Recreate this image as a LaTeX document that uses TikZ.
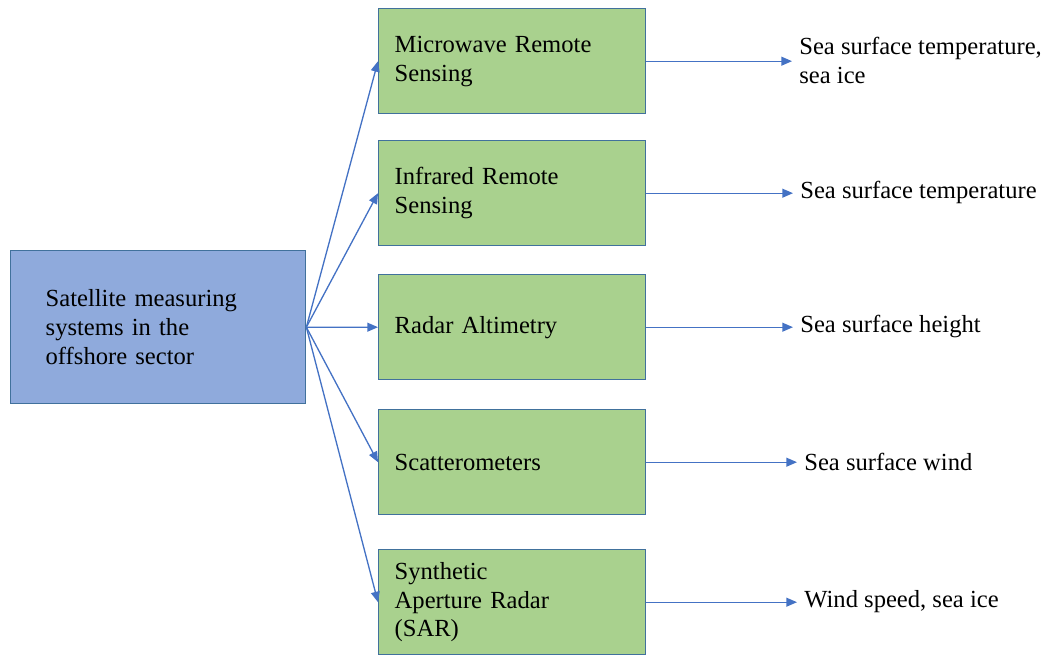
\documentclass[tikz,border=0pt]{standalone}
\usepackage{fontspec}
\setmainfont{Liberation Serif}
\usetikzlibrary{arrows.meta}

\definecolor{boxblue}{HTML}{8FAADC}
\definecolor{boxgreen}{HTML}{A9D18E}
\definecolor{edgeblue}{HTML}{41719C}
\definecolor{arrowblue}{HTML}{4472C4}

\tikzset{
    sysbox/.style={draw=edgeblue,fill=boxblue,line width=0.8pt,minimum width=5.88cm,minimum height=3.06cm,
        text width=4.5cm,inner xsep=0.7cm,align=left,anchor=north west,font=\fontsize{14}{16.4}\selectfont},
    methodbox/.style={draw=edgeblue,fill=boxgreen,line width=0.8pt,minimum width=5.34cm,minimum height=2.1cm,
        text width=4.7cm,inner xsep=0.32cm,align=left,anchor=north west,font=\fontsize{14}{16.4}\selectfont},
    result/.style={anchor=west,inner xsep=4pt,inner ysep=0pt,align=left,font=\fontsize{14}{16.4}\selectfont},
    link/.style={draw=arrowblue,line width=0.75pt,-{Triangle[length=6pt,width=5pt]}}
}

\begin{document}
\begin{tikzpicture}[x=0.02cm,y=-0.02cm]
    \useasboundingbox (0,0) rectangle (1044,655);

    % source
    \node[sysbox] (sat) at (10,250) {Satellite measuring\\systems in the\\offshore sector};

    % measuring methods
    \node[methodbox] (mw) at (378,8) {Microwave Remote\\Sensing};
    \node[methodbox] (ir) at (378,140) {Infrared Remote\\Sensing};
    \node[methodbox] (ra) at (378,274) {Radar Altimetry};
    \node[methodbox] (sc) at (378,409) {Scatterometers};
    \node[methodbox] (sar) at (378,549) {Synthetic\\Aperture Radar\\(SAR)};

    % what they give
    \node[result] (mwr) at (792,60.5) {Sea surface temperature,\\sea ice};
    \node[result] (irr) at (793,192) {Sea surface temperature};
    \node[result] (rar) at (793,326) {Sea surface height};
    \node[result] (scr) at (797,461.5) {Sea surface wind};
    \node[result] (sarr) at (797,601.5) {Wind speed, sea ice};

    \foreach \m in {mw,ir,ra,sc,sar}
        \draw[link](sat.east)--(\m.west);

    \draw[link](mw.east)--(mw.east-|mwr.west);
    \draw[link](ir.east)--(ir.east-|irr.west);
    \draw[link](ra.east)--(ra.east-|rar.west);
    \draw[link](sc.east)--(sc.east-|scr.west);
    \draw[link](sar.east)--(sar.east-|sarr.west);
\end{tikzpicture}
\end{document}
